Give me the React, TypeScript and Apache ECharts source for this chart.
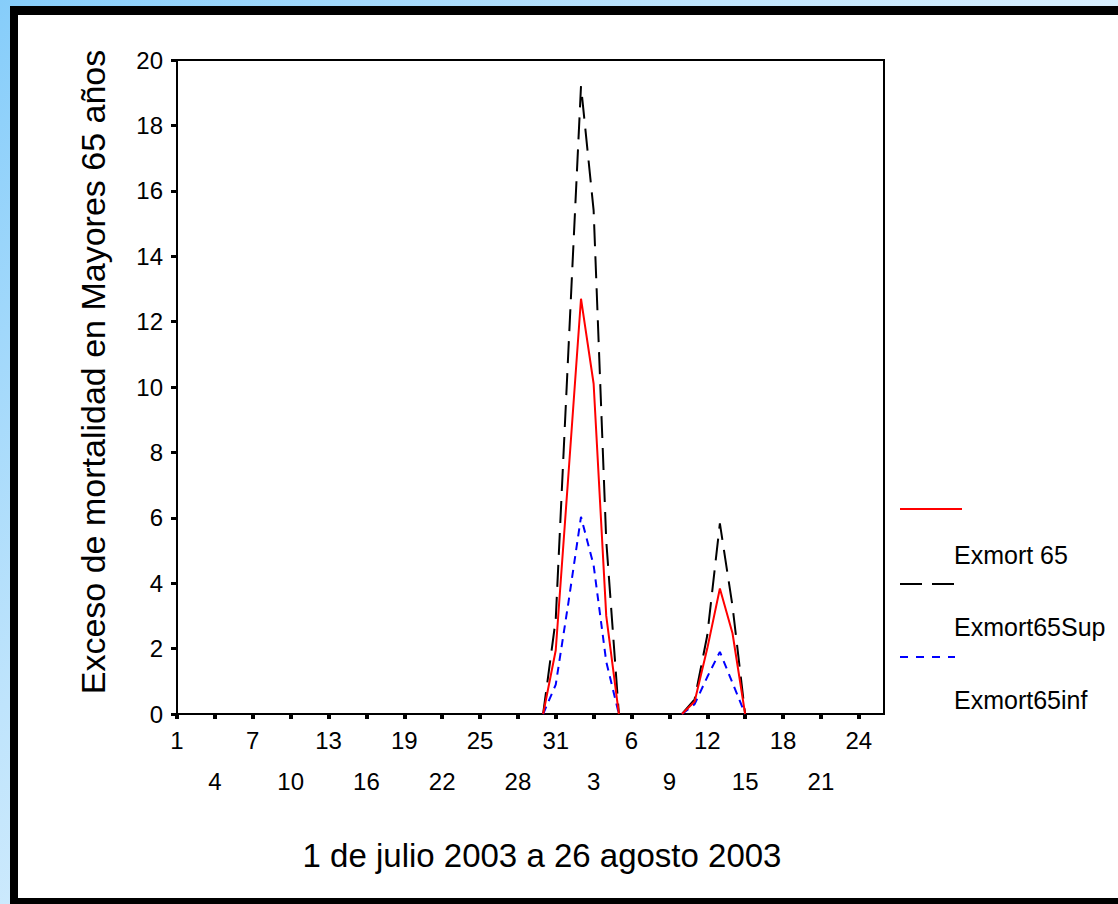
import React, { useEffect, useRef } from "react";
import * as echarts from "echarts";

const days: string[] = [
  "1", "2", "3", "4", "5", "6", "7", "8", "9", "10", "11", "12", "13", "14", "15", "16",
  "17", "18", "19", "20", "21", "22", "23", "24", "25", "26", "27", "28", "29", "30", "31",
  "1", "2", "3", "4", "5", "6", "7", "8", "9", "10", "11", "12", "13", "14", "15", "16",
  "17", "18", "19", "20", "21", "22", "23", "24", "25", "26",
];

const N = null;

const exmort65: (number | null)[] = [
  N, N, N, N, N, N, N, N, N, N, N, N, N, N, N, N, N, N, N, N, N, N, N, N, N, N, N, N, N,
  0, 1.95, 7.3, 12.7, 10.1, 3.0, 0,
  N, N, N, N,
  0, 0.38, 2.0, 3.84, 2.47, 0,
  N, N, N, N, N, N, N, N, N, N, N,
];

const exmort65Sup: (number | null)[] = [
  N, N, N, N, N, N, N, N, N, N, N, N, N, N, N, N, N, N, N, N, N, N, N, N, N, N, N, N, N,
  0, 2.9, 11.1, 19.2, 15.4, 5.3, 0,
  N, N, N, N,
  0, 0.45, 2.4, 5.83, 3.3, 0,
  N, N, N, N, N, N, N, N, N, N, N,
];

const exmort65Inf: (number | null)[] = [
  N, N, N, N, N, N, N, N, N, N, N, N, N, N, N, N, N, N, N, N, N, N, N, N, N, N, N, N, N,
  0, 0.9, 3.4, 6.03, 4.55, 1.6, 0,
  N, N, N, N,
  0, 0.3, 1.13, 1.9, 0.95, 0,
  N, N, N, N, N, N, N, N, N, N, N,
];

const seriesNames = ["Exmort 65", "Exmort65Sup", "Exmort65inf"];
const yTitle = "Exceso de mortalidad en Mayores 65 años";
const xTitle = "1 de julio 2003 a 26 agosto 2003";

const FONT = "'Liberation Sans', Arial, Helvetica, sans-serif";

export default function App() {
  const ref = useRef<HTMLDivElement>(null);

  useEffect(() => {
    if (!ref.current) return;
    const chart = echarts.init(ref.current, undefined, { renderer: "svg" });
    chart.setOption({
      animation: false,
      backgroundColor: "transparent",
      textStyle: { fontFamily: FONT },
      grid: {
        left: 177,
        top: 60,
        right: 234,
        bottom: 190,
        show: true,
        borderColor: "#000",
        borderWidth: 2,
        backgroundColor: "transparent",
      },
      xAxis: {
        type: "category",
        data: days,
        boundaryGap: false,
        axisLine: { show: true, onZero: false, lineStyle: { color: "#000", width: 2 } },
        axisTick: {
          show: true,
          interval: (i: number) => i % 3 === 0,
          length: 5,
          lineStyle: { color: "#000", width: 4 },
        },
        axisLabel: {
          interval: (i: number) => i % 3 === 0,
          formatter: (v: string, i: number) => (i % 6 === 3 ? "\n" + v : v),
          color: "#000",
          fontSize: 24,
          fontFamily: FONT,
          lineHeight: 41,
          margin: 6,
        },
        splitLine: { show: false },
      },
      yAxis: {
        type: "value",
        min: 0,
        max: 20,
        interval: 2,
        axisLine: { show: true, lineStyle: { color: "#000", width: 2 } },
        axisTick: { show: true, length: 6, lineStyle: { color: "#000", width: 3 } },
        axisLabel: { color: "#000", fontSize: 24, fontFamily: FONT, margin: 14 },
        splitLine: { show: false },
      },
      series: [
        {
          name: seriesNames[1],
          type: "line",
          data: exmort65Sup,
          symbol: "none",
          connectNulls: false,
          z: 3,
          lineStyle: { color: "#000", width: 2, type: [22, 10] },
        },
        {
          name: seriesNames[2],
          type: "line",
          data: exmort65Inf,
          symbol: "none",
          connectNulls: false,
          z: 4,
          lineStyle: { color: "#0000ff", width: 2, type: [8, 6] },
        },
        {
          name: seriesNames[0],
          type: "line",
          data: exmort65,
          symbol: "none",
          connectNulls: false,
          z: 5,
          lineStyle: { color: "#ff0000", width: 2, type: "solid" },
        },
      ],
      graphic: [
        {
          type: "text",
          x: 93,
          y: 372,
          rotation: Math.PI / 2,
          style: {
            text: yTitle,
            fill: "#000",
            fontSize: 34,
            fontFamily: FONT,
            align: "center",
            verticalAlign: "middle",
          },
        },
        {
          type: "text",
          x: 542,
          y: 855,
          style: {
            text: xTitle,
            fill: "#000",
            fontSize: 33,
            fontFamily: FONT,
            align: "center",
            verticalAlign: "middle",
          },
        },
        {
          type: "line",
          shape: { x1: 900, y1: 509, x2: 962, y2: 509 },
          style: { stroke: "#ff0000", lineWidth: 2 },
        },
        {
          type: "text",
          x: 954,
          y: 555,
          style: { text: seriesNames[0], fill: "#000", fontSize: 25, fontFamily: FONT, align: "left", verticalAlign: "middle" },
        },
        {
          type: "line",
          shape: { x1: 900, y1: 584, x2: 954, y2: 584 },
          style: { stroke: "#000", lineWidth: 2, lineDash: [22, 10] },
        },
        {
          type: "text",
          x: 954,
          y: 627,
          style: { text: seriesNames[1], fill: "#000", fontSize: 25, fontFamily: FONT, align: "left", verticalAlign: "middle" },
        },
        {
          type: "line",
          shape: { x1: 900, y1: 657, x2: 955, y2: 657 },
          style: { stroke: "#0000ff", lineWidth: 2, lineDash: [8, 8] },
        },
        {
          type: "text",
          x: 954,
          y: 700,
          style: { text: seriesNames[2], fill: "#000", fontSize: 25, fontFamily: FONT, align: "left", verticalAlign: "middle" },
        },
      ],
    });
    return () => chart.dispose();
  }, []);

  return (
    <div
      style={{
        position: "fixed",
        left: 0,
        top: 0,
        width: 1118,
        height: 904,
        overflow: "hidden",
        background: "linear-gradient(135deg, #86cdfa 0%, #bfe4fc 35%, #eaf6fe 70%, #f4faff 100%)",
      }}
    >
      <div
        style={{
          position: "absolute",
          left: 10,
          top: 6,
          width: 1108,
          height: 898,
          boxSizing: "border-box",
          borderLeft: "8px solid #000",
          borderTop: "9px solid #000",
          borderBottom: "6px solid #000",
          borderRight: "none",
          background: "#fff",
        }}
      />
      <div ref={ref} style={{ position: "absolute", left: 0, top: 0, width: 1118, height: 904 }} />
    </div>
  );
}
